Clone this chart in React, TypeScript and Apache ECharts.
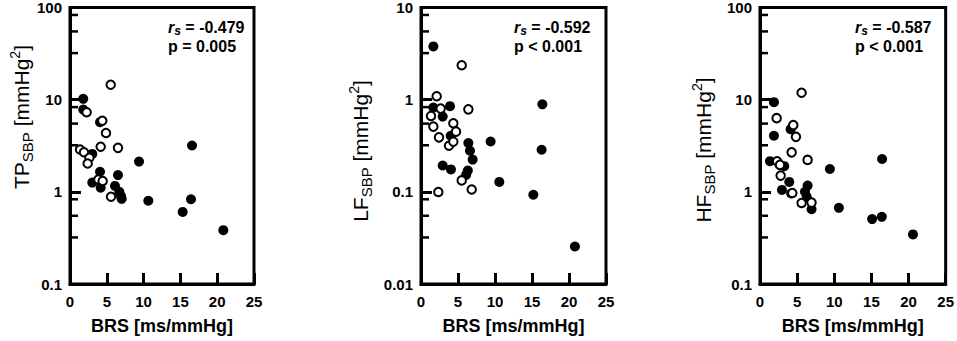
import React, { useEffect, useRef } from 'react';
import * as echarts from 'echarts';

const FONT = "'Liberation Sans', Arial, Helvetica, sans-serif";

// x tick labels (BRS)
const xTickValues = [0, 5, 10, 15, 20, 25];

// Panel 1: TP_SBP
const tpFilled = [
  [1.8, 10.2], [1.8, 7.8], [4.08, 5.7], [3.03, 2.58], [9.38, 2.13], [16.58, 3.18],
  [4.08, 1.65], [6.52, 1.52], [3.03, 1.26], [4.17, 1.11], [6.11, 1.16], [6.7, 1.0],
  [6.93, 0.9], [7.02, 0.84], [10.64, 0.8], [15.31, 0.605], [16.44, 0.83], [20.83, 0.384],
];
const tpOpen = [
  [2.26, 7.3], [4.39, 5.9], [4.89, 4.35], [5.53, 14.5], [4.17, 3.08], [6.52, 3.0],
  [1.36, 2.88], [1.9, 2.69], [2.63, 2.34], [2.4, 2.03], [3.85, 1.36], [4.44, 1.31], [5.57, 0.885],
];

// Panel 2: LF_SBP
const lfFilled = [
  [1.67, 3.78], [1.67, 0.82], [3.92, 0.85], [16.4, 0.89], [2.93, 0.655], [4.01, 0.405],
  [6.4, 0.338], [9.41, 0.352], [6.62, 0.279], [6.98, 0.224], [16.3, 0.286], [2.93, 0.193],
  [4.05, 0.175], [6.33, 0.17], [6.1, 0.153], [10.58, 0.128], [15.18, 0.093], [20.8, 0.0255],
];
const lfOpen = [
  [5.5, 2.36], [2.12, 1.09], [2.66, 0.8], [6.4, 0.785], [1.35, 0.666], [1.67, 0.51],
  [4.37, 0.555], [4.73, 0.45], [2.43, 0.39], [3.78, 0.316], [4.37, 0.35], [5.5, 0.133],
  [6.85, 0.106], [2.34, 0.0996],
];

// Panel 3: HF_SBP
const hfFilled = [
  [1.88, 9.4], [1.88, 4.06], [4.12, 4.79], [9.41, 1.77], [16.44, 2.27], [1.34, 2.15],
  [3.27, 1.9], [2.96, 1.05], [3.94, 1.28], [4.2, 0.96], [6.41, 1.17], [6.05, 1.0],
  [6.3, 0.88], [6.94, 0.647], [10.62, 0.67], [15.1, 0.506], [16.4, 0.536], [20.6, 0.345],
];
const hfOpen = [
  [2.24, 6.3], [4.48, 5.3], [4.84, 3.95], [5.6, 11.9], [4.26, 2.68], [6.41, 2.22],
  [2.3, 2.15], [2.69, 1.96], [2.78, 1.5], [4.35, 0.97], [5.6, 0.757], [6.94, 0.764],
];

// minor tick multipliers within each decade
const minorMult = [3.2, 5.5, 8.3];

const panels = [
  { left: 70, width: 184, yMin: 0.1, yMax: 100, lab: 'TP', filled: tpFilled, open: tpOpen,
    r: ' = -0.479', p: 'p = 0.005', tx: 168, nameX: 21, nameY: 117 },
  { left: 421, width: 185, yMin: 0.01, yMax: 10, lab: 'LF', filled: lfFilled, open: lfOpen,
    r: ' = -0.592', p: 'p < 0.001', tx: 514, nameX: 360, nameY: 151 },
  { left: 760, width: 186, yMin: 0.1, yMax: 100, lab: 'HF', filled: hfFilled, open: hfOpen,
    r: ' = -0.587', p: 'p < 0.001', tx: 855, nameX: 703, nameY: 150 },
];

function minorTicks(lo: number, hi: number) {
  const out: number[][] = [];
  for (let d = lo; d < hi * 0.999; d *= 10) {
    for (const m of minorMult) out.push([0, d * m]);
  }
  return out;
}

export default function App() {
  const ref = useRef<HTMLDivElement>(null);
  useEffect(() => {
    if (!ref.current) return;
    const chart = echarts.init(ref.current, undefined, { renderer: 'svg' });
    const grids = panels.map((p) => ({
      left: p.left, top: 7, width: p.width, height: 277,
      show: true, borderColor: '#000', borderWidth: 3, backgroundColor: 'transparent',
    }));
    const xAxes = panels.map((p, i) => ({
      gridIndex: i, type: 'value', min: xTickValues[0], max: xTickValues[xTickValues.length - 1], interval: 5,
      axisLine: { show: true, lineStyle: { color: '#000', width: 3 } },
      axisTick: { show: true, inside: true, length: 11, lineStyle: { color: '#000', width: 3 } },
      axisLabel: { color: '#000', fontSize: 15, fontWeight: 'bold', fontFamily: FONT, margin: 10 },
      splitLine: { show: false },
      name: 'BRS [ms/mmHg]', nameLocation: 'middle', nameGap: 33,
      nameTextStyle: { fontSize: 18, fontWeight: 'bold', color: '#000', fontFamily: FONT },
    }));
    const yAxes = panels.map((p, i) => ({
      gridIndex: i, type: 'log', logBase: 10, min: p.yMin, max: p.yMax,
      axisLine: { show: true, lineStyle: { color: '#000', width: 3 } },
      axisTick: { show: true, inside: true, length: 11, lineStyle: { color: '#000', width: 3 } },
      axisLabel: {
        color: '#000', fontSize: 15, fontWeight: 'bold', fontFamily: FONT, margin: 8,
        formatter: (v: number) => String(parseFloat(Number(v).toPrecision(3))),
      },
      splitLine: { show: false },
    }));
    const series: any[] = [];
    panels.forEach((p, i) => {
      series.push({
        type: 'custom', xAxisIndex: i, yAxisIndex: i, silent: true, z: 5,
        data: minorTicks(p.yMin, p.yMax),
        renderItem: (_params: any, api: any) => {
          const pt = api.coord([api.value(0), api.value(1)]);
          return {
            type: 'line',
            shape: { x1: pt[0], y1: pt[1], x2: pt[0] + 8, y2: pt[1] },
            style: { stroke: '#000', lineWidth: 2.5 },
          };
        },
      });
      series.push({
        type: 'scatter', xAxisIndex: i, yAxisIndex: i, data: p.filled, symbol: 'circle',
        symbolSize: 10, itemStyle: { color: '#000', opacity: 1 }, silent: true, z: 3,
      });
      series.push({
        type: 'scatter', xAxisIndex: i, yAxisIndex: i, data: p.open, symbol: 'circle',
        symbolSize: 8.5, itemStyle: { color: '#fff', borderColor: '#000', borderWidth: 2, opacity: 1 },
        silent: true, z: 4,
      });
    });
    const richAnn = {
      ri: { fontSize: 16, fontStyle: 'italic', fontWeight: 'bold', fontFamily: FONT, lineHeight: 20, fill: '#000' },
      rs: { fontSize: 12, fontStyle: 'italic', fontWeight: 'bold', fontFamily: FONT, lineHeight: 12, verticalAlign: 'bottom', fill: '#000' },
      b: { fontSize: 16, fontWeight: 'bold', fontFamily: FONT, lineHeight: 20, fill: '#000' },
    };
    const richName = {
      m: { fontSize: 21, lineHeight: 27, fontFamily: FONT, fill: '#000' },
      s: { fontSize: 15, lineHeight: 15, verticalAlign: 'bottom', fontFamily: FONT, fill: '#000' },
      p: { fontSize: 14, lineHeight: 14, verticalAlign: 'top', fontFamily: FONT, fill: '#000' },
    };
    const graphic: any[] = [];
    panels.forEach((p) => {
      graphic.push({
        type: 'text', z: 10,
        style: { text: `{ri|r}{rs|s}{b|${p.r}}`, x: p.tx, y: 27, verticalAlign: 'middle', align: 'left', rich: richAnn },
      });
      graphic.push({
        type: 'text', z: 10,
        style: { text: p.p, x: p.tx, y: 46, verticalAlign: 'middle', align: 'left', fontSize: 16, fontWeight: 'bold', fontFamily: FONT, fill: '#000' },
      });
      graphic.push({
        type: 'text', z: 10, x: p.nameX, y: p.nameY, rotation: Math.PI / 2,
        style: { text: `{m|${p.lab}}{s|SBP}{m| [mmHg}{p|2}{m|]}`, align: 'center', verticalAlign: 'middle', rich: richName },
      });
    });
    chart.setOption({
      animation: false,
      backgroundColor: '#fff',
      grid: grids,
      xAxis: xAxes,
      yAxis: yAxes,
      series,
      graphic,
    });
    return () => chart.dispose();
  }, []);
  return <div ref={ref} style={{ position: 'fixed', left: 0, top: 0, width: 957, height: 341 }} />;
}
